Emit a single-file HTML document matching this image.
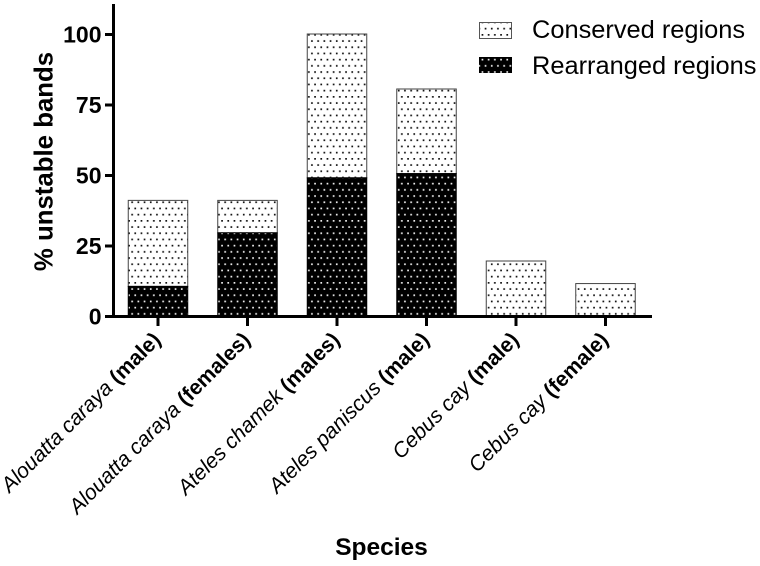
<!DOCTYPE html>
<html>
<head>
<meta charset="utf-8">
<style>
html,body{margin:0;padding:0;background:#fff;}
svg{display:block;font-family:"Liberation Sans",Arial,sans-serif;}
</style>
</head>
<body>
<svg id="chart" width="760" height="566" viewBox="0 0 760 566" xmlns="http://www.w3.org/2000/svg">
  <defs>
    <pattern id="dots-light" patternUnits="userSpaceOnUse" width="6.2" height="12.4" x="128" y="34">
      <rect width="6.2" height="12.4" fill="#fff"/>
      <rect x="0.2" y="0" width="1.7" height="1.7" fill="#111"/>
      <rect x="3.3" y="6.2" width="1.7" height="1.7" fill="#111"/>
    </pattern>
    <pattern id="dots-dark" patternUnits="userSpaceOnUse" width="6.2" height="12.4" x="128" y="34">
      <rect width="6.2" height="12.4" fill="#000"/>
      <rect x="0.2" y="0" width="1.7" height="1.7" fill="#eee"/>
      <rect x="3.3" y="6.2" width="1.7" height="1.7" fill="#eee"/>
    </pattern>
  </defs>
  <g id="bars"></g>
  <g id="axes"></g>
  <g id="labels"></g>

  <text transform="translate(52.5,161.5) rotate(-90)" text-anchor="middle" font-size="25.8" font-weight="700" fill="#000">% unstable bands</text>
  <text x="381.5" y="555" text-anchor="middle" font-size="24.5" font-weight="700" fill="#000">Species</text>

  <g>
    <rect x="479.5" y="22.5" width="32" height="16" fill="url(#dots-light)" stroke="#555" stroke-width="1"/>
    <text x="532" y="38" font-size="25.4" fill="#000">Conserved regions</text>
    <rect x="479" y="57" width="33" height="16" fill="url(#dots-dark)"/>
    <text x="532" y="74" font-size="25.4" fill="#000">Rearranged regions</text>
  </g>
</svg>
<script>
const speciesNames = ["Alouatta caraya", "Alouatta caraya", "Ateles chamek", "Ateles paniscus", "Cebus cay", "Cebus cay"];
const sexLabels = ["(male)", "(females)", "(males)", "(male)", "(male)", "(female)"];
const rearranged = [10.5, 29.5, 49, 50.5, 0, 0];
const conserved = [30.5, 11.5, 51, 30, 19.5, 11.5];
const yTicks = [0, 25, 50, 75, 100];

const NS = "http://www.w3.org/2000/svg";
const y0 = 316, pxPerUnit = 2.82, x0 = 158, step = 89.5, barW = 59.5;
const yScale = function (v) { return y0 - v * pxPerUnit; };
const xScale = function (i) { return x0 + i * step; };

function make(tag, attrs, parent) {
  const el = document.createElementNS(NS, tag);
  for (const k in attrs) el.setAttribute(k, attrs[k]);
  parent.appendChild(el);
  return el;
}

const barsG = document.getElementById("bars");
const axesG = document.getElementById("axes");
const labelsG = document.getElementById("labels");

speciesNames.forEach(function (name, i) {
  const cx = xScale(i);
  const top = rearranged[i] + conserved[i];
  if (conserved[i] > 0) {
    const c = make("rect", {
      x: cx - barW / 2, y: yScale(top), width: barW,
      height: yScale(rearranged[i]) - yScale(top),
      fill: "url(#dots-light)", stroke: "#444", "stroke-width": 1
    }, barsG);
    
    
  }
  if (rearranged[i] > 0) {
    const r = make("rect", {
      x: cx - barW / 2, y: yScale(rearranged[i]), width: barW,
      height: y0 - yScale(rearranged[i]),
      fill: "url(#dots-dark)", stroke: "#000", "stroke-width": 1
    }, barsG);
    
    
  }

  const tick = make("line", {
    x1: cx, x2: cx, y1: y0, y2: y0 + 10, stroke: "#000", "stroke-width": 3
  }, axesG);
  
  

  const label = make("text", {
    transform: "translate(" + (cx + 4) + ",341) rotate(-45)",
    "text-anchor": "end", "font-size": 21.2, fill: "#000"
  }, labelsG);
  
  
  const it = make("tspan", { "font-style": "italic" }, label);
  it.textContent = name + " ";
  const bd = make("tspan", { "font-weight": "700" }, label);
  bd.textContent = sexLabels[i];
});

const yAxis = make("line", { x1: 113.5, x2: 113.5, y1: 4, y2: 317.5, stroke: "#000", "stroke-width": 3 }, axesG);


const xAxis = make("line", { x1: 112, x2: 652, y1: 316.5, y2: 316.5, stroke: "#000", "stroke-width": 3 }, axesG);



yTicks.forEach(function (v) {
  const y = yScale(v);
  const t = make("line", { x1: 105, x2: 113, y1: y + 0.5, y2: y + 0.5, stroke: "#000", "stroke-width": 3 }, axesG);
  
  
  const l = make("text", { x: 101.5, y: y + 8.5, "text-anchor": "end", "font-size": 23, "font-weight": 700, fill: "#000" }, axesG);
  
  
  l.textContent = v;
});
</script>
</body>
</html>
